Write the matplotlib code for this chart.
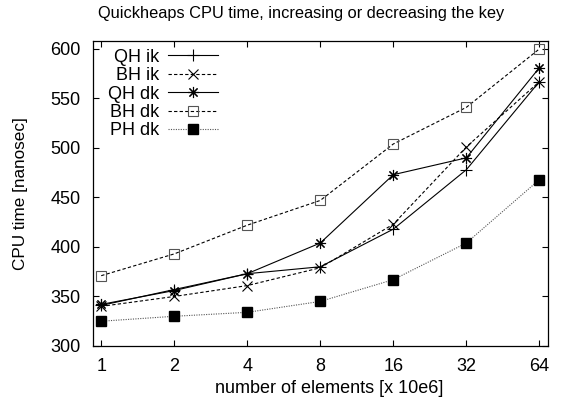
import numpy as np
import matplotlib
matplotlib.use("Agg")
import matplotlib.pyplot as plt

plt.rcParams['font.family'] = ['Liberation Sans', 'DejaVu Sans']

# ====== dados ======
elements = [1, 2, 4, 8, 16, 32, 64]
qh_ik = [341, 357, 373, 380, 418, 478, 567]
bh_ik = [340, 350, 361, 379, 423, 501, 567]
qh_dk = [342, 356, 373, 404, 473, 490, 581]
bh_dk = [371, 393, 422, 447, 504, 541, 600]
ph_dk = [325, 330, 334, 345, 367, 404, 468]
yticks = [300, 350, 400, 450, 500, 550, 600]

# ====== figura ======
fig = plt.figure(figsize=(5.65, 4.08), dpi=100)
ax = fig.add_axes([0.1646, 0.152, 0.8054, 0.7475])

ax.plot(elements, qh_ik, color="black", lw=0.8, ls="-", marker="+", ms=8, mew=0.8, label="QH ik")
ax.plot(elements, bh_ik, color="black", lw=0.8, ls=(0, (3, 2)), marker="x", ms=7, mew=0.8, label="BH ik")
ax.plot(elements, qh_dk, color="black", lw=0.8, ls="-", marker=(8, 2, 0), ms=8, mew=0.8, label="QH dk")
ax.plot(elements, bh_dk, color="black", lw=0.8, ls=(0, (3, 2)), marker="s", ms=7.5, mew=0.8,
        mfc="none", mec="#555555", label="BH dk")
ax.plot(elements, ph_dk, color="#555555", lw=0.8, ls=(0, (1, 1.2)), marker="s", ms=7.5,
        mfc="black", mec="black", label="PH dk")

ax.set_xscale("log", base=2)
ax.set_xlim(0.925, 69.5)
ax.set_ylim(300, 608)
ax.set_xticks(elements)
ax.set_xticklabels([str(e) for e in elements])
ax.minorticks_off()
ax.set_yticks(yticks)
ax.tick_params(direction="in", top=True, right=True, length=4, width=0.8, labelsize=13, pad=9)
for s in ax.spines.values():
    s.set_linewidth(0.9)

ax.set_xlabel("number of elements [x 10e6]", fontsize=13)
ax.xaxis.set_label_coords(0.519, -0.112)
ax.set_ylabel("CPU time [nanosec]", fontsize=12.3)
ax.yaxis.set_label_coords(-0.143, 0.5)
fig.text(0.533, 0.966, "Quickheaps CPU time, increasing or decreasing the key",
         fontsize=11.8, ha="center", va="center")

ax.legend(loc="upper right", bbox_to_anchor=(0.275, 0.975), frameon=False, markerfirst=False,
          handlelength=2.77, fontsize=13, labelspacing=0.08, borderpad=0, borderaxespad=0,
          handletextpad=0.48)

fig.savefig("out.png", dpi=100)
